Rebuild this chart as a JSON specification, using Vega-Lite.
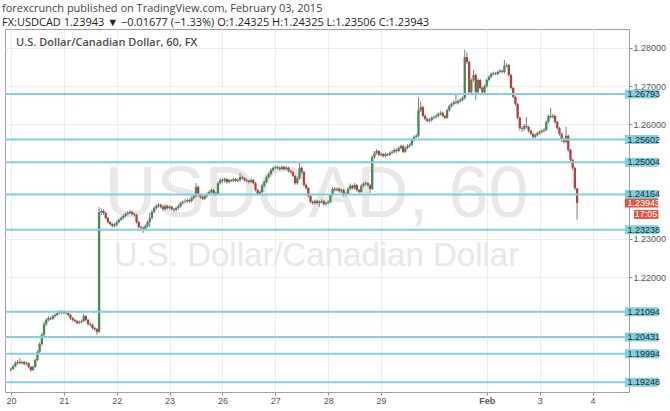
{
"$schema":"https://vega.github.io/schema/vega-lite/v6.json",
"width":624,"height":363,
"autosize":{"type":"none"},
"padding":{"left":5,"top":29,"right":41,"bottom":19},
"background":"white",
"config":{"view":{"stroke":"#a0a0a0","strokeWidth":1},"font":"Liberation Sans"},
"title":{"text":"forexcrunch published on TradingView.com, February 03, 2015","subtitle":"FX:USDCAD 1.23943 ▼ −0.01677 (−1.33%) O:1.24325 H:1.24325 L:1.23506 C:1.23943","anchor":"start","frame":"group","dx":-3,"offset":1,"font":"Open Sans","fontSize":11,"fontWeight":"normal","color":"#444444","subtitleFont":"Open Sans","subtitleFontSize":11,"subtitleColor":"#222222","subtitlePadding":3},
"datasets":{
"candles":[
{"t":0,"o":1.1957,"h":1.1964,"l":1.1953,"c":1.1960},
{"t":1,"o":1.1960,"h":1.1971,"l":1.1957,"c":1.1967},
{"t":2,"o":1.1967,"h":1.1980,"l":1.1964,"c":1.1975},
{"t":3,"o":1.1975,"h":1.1983,"l":1.1971,"c":1.1978},
{"t":4,"o":1.1978,"h":1.1988,"l":1.1972,"c":1.1975},
{"t":5,"o":1.1975,"h":1.1982,"l":1.1971,"c":1.1978},
{"t":6,"o":1.1978,"h":1.1981,"l":1.1969,"c":1.1973},
{"t":7,"o":1.1973,"h":1.1979,"l":1.1970,"c":1.1975},
{"t":8,"o":1.1975,"h":1.1977,"l":1.1961,"c":1.1965},
{"t":9,"o":1.1965,"h":1.1968,"l":1.1952,"c":1.1957},
{"t":10,"o":1.1957,"h":1.1969,"l":1.1954,"c":1.1965},
{"t":11,"o":1.1965,"h":1.1987,"l":1.1962,"c":1.1983},
{"t":12,"o":1.1983,"h":1.2009,"l":1.1980,"c":1.2004},
{"t":13,"o":1.2004,"h":1.2030,"l":1.2001,"c":1.2025},
{"t":14,"o":1.2025,"h":1.2055,"l":1.2021,"c":1.2049},
{"t":15,"o":1.2049,"h":1.2084,"l":1.2045,"c":1.2077},
{"t":16,"o":1.2077,"h":1.2093,"l":1.2072,"c":1.2088},
{"t":17,"o":1.2088,"h":1.2098,"l":1.2084,"c":1.2093},
{"t":18,"o":1.2093,"h":1.2097,"l":1.2087,"c":1.2091},
{"t":19,"o":1.2091,"h":1.2102,"l":1.2088,"c":1.2098},
{"t":20,"o":1.2098,"h":1.2105,"l":1.2094,"c":1.2101},
{"t":21,"o":1.2101,"h":1.2110,"l":1.2098,"c":1.2106},
{"t":22,"o":1.2106,"h":1.2114,"l":1.2103,"c":1.2109},
{"t":23,"o":1.2109,"h":1.2113,"l":1.2102,"c":1.2106},
{"t":24,"o":1.2106,"h":1.2113,"l":1.2103,"c":1.2109},
{"t":25,"o":1.2109,"h":1.2112,"l":1.2102,"c":1.2106},
{"t":26,"o":1.2106,"h":1.2109,"l":1.2097,"c":1.2101},
{"t":27,"o":1.2101,"h":1.2104,"l":1.2089,"c":1.2093},
{"t":28,"o":1.2093,"h":1.2096,"l":1.2084,"c":1.2088},
{"t":29,"o":1.2088,"h":1.2091,"l":1.2081,"c":1.2085},
{"t":30,"o":1.2085,"h":1.2088,"l":1.2076,"c":1.2080},
{"t":31,"o":1.2080,"h":1.2087,"l":1.2077,"c":1.2083},
{"t":32,"o":1.2083,"h":1.2089,"l":1.2079,"c":1.2085},
{"t":33,"o":1.2085,"h":1.2103,"l":1.2082,"c":1.2098},
{"t":34,"o":1.2098,"h":1.2101,"l":1.2084,"c":1.2088},
{"t":35,"o":1.2088,"h":1.2091,"l":1.2073,"c":1.2077},
{"t":36,"o":1.2077,"h":1.2081,"l":1.2071,"c":1.2075},
{"t":37,"o":1.2075,"h":1.2078,"l":1.2063,"c":1.2067},
{"t":38,"o":1.2067,"h":1.2070,"l":1.2060,"c":1.2064},
{"t":39,"o":1.2064,"h":1.2067,"l":1.2049,"c":1.2057},
{"t":40,"o":1.2057,"h":1.2383,"l":1.2054,"c":1.2370},
{"t":41,"o":1.2370,"h":1.2380,"l":1.2362,"c":1.2373},
{"t":42,"o":1.2373,"h":1.2378,"l":1.2363,"c":1.2368},
{"t":43,"o":1.2368,"h":1.2371,"l":1.2351,"c":1.2355},
{"t":44,"o":1.2355,"h":1.2358,"l":1.2340,"c":1.2344},
{"t":45,"o":1.2344,"h":1.2347,"l":1.2335,"c":1.2339},
{"t":46,"o":1.2339,"h":1.2342,"l":1.2330,"c":1.2334},
{"t":47,"o":1.2334,"h":1.2341,"l":1.2330,"c":1.2337},
{"t":48,"o":1.2337,"h":1.2348,"l":1.2333,"c":1.2344},
{"t":49,"o":1.2344,"h":1.2354,"l":1.2341,"c":1.2350},
{"t":50,"o":1.2350,"h":1.2359,"l":1.2347,"c":1.2355},
{"t":51,"o":1.2355,"h":1.2364,"l":1.2351,"c":1.2360},
{"t":52,"o":1.2360,"h":1.2369,"l":1.2357,"c":1.2365},
{"t":53,"o":1.2365,"h":1.2373,"l":1.2362,"c":1.2368},
{"t":54,"o":1.2368,"h":1.2376,"l":1.2364,"c":1.2371},
{"t":55,"o":1.2371,"h":1.2374,"l":1.2361,"c":1.2365},
{"t":56,"o":1.2365,"h":1.2369,"l":1.2359,"c":1.2363},
{"t":57,"o":1.2363,"h":1.2366,"l":1.2340,"c":1.2344},
{"t":58,"o":1.2344,"h":1.2347,"l":1.2327,"c":1.2331},
{"t":59,"o":1.2331,"h":1.2335,"l":1.2325,"c":1.2329},
{"t":60,"o":1.2329,"h":1.2333,"l":1.2316,"c":1.2326},
{"t":61,"o":1.2326,"h":1.2338,"l":1.2322,"c":1.2334},
{"t":62,"o":1.2334,"h":1.2348,"l":1.2330,"c":1.2344},
{"t":63,"o":1.2344,"h":1.2368,"l":1.2331,"c":1.2355},
{"t":64,"o":1.2355,"h":1.2376,"l":1.2351,"c":1.2371},
{"t":65,"o":1.2371,"h":1.2385,"l":1.2367,"c":1.2381},
{"t":66,"o":1.2381,"h":1.2391,"l":1.2377,"c":1.2386},
{"t":67,"o":1.2386,"h":1.2394,"l":1.2382,"c":1.2389},
{"t":68,"o":1.2389,"h":1.2392,"l":1.2380,"c":1.2384},
{"t":69,"o":1.2384,"h":1.2387,"l":1.2374,"c":1.2378},
{"t":70,"o":1.2378,"h":1.2390,"l":1.2374,"c":1.2386},
{"t":71,"o":1.2386,"h":1.2389,"l":1.2377,"c":1.2381},
{"t":72,"o":1.2381,"h":1.2388,"l":1.2377,"c":1.2384},
{"t":73,"o":1.2384,"h":1.2387,"l":1.2374,"c":1.2378},
{"t":74,"o":1.2378,"h":1.2381,"l":1.2370,"c":1.2376},
{"t":75,"o":1.2376,"h":1.2385,"l":1.2372,"c":1.2381},
{"t":76,"o":1.2381,"h":1.2390,"l":1.2377,"c":1.2386},
{"t":77,"o":1.2386,"h":1.2398,"l":1.2382,"c":1.2394},
{"t":78,"o":1.2394,"h":1.2401,"l":1.2390,"c":1.2397},
{"t":79,"o":1.2397,"h":1.2404,"l":1.2393,"c":1.2399},
{"t":80,"o":1.2399,"h":1.2406,"l":1.2395,"c":1.2402},
{"t":81,"o":1.2402,"h":1.2405,"l":1.2395,"c":1.2399},
{"t":82,"o":1.2399,"h":1.2411,"l":1.2395,"c":1.2407},
{"t":83,"o":1.2407,"h":1.2417,"l":1.2403,"c":1.2412},
{"t":84,"o":1.2412,"h":1.2446,"l":1.2408,"c":1.2436},
{"t":85,"o":1.2436,"h":1.2440,"l":1.2411,"c":1.2415},
{"t":86,"o":1.2415,"h":1.2419,"l":1.2405,"c":1.2410},
{"t":87,"o":1.2410,"h":1.2413,"l":1.2401,"c":1.2405},
{"t":88,"o":1.2405,"h":1.2416,"l":1.2402,"c":1.2412},
{"t":89,"o":1.2412,"h":1.2422,"l":1.2408,"c":1.2418},
{"t":90,"o":1.2418,"h":1.2427,"l":1.2414,"c":1.2423},
{"t":91,"o":1.2423,"h":1.2432,"l":1.2419,"c":1.2428},
{"t":92,"o":1.2428,"h":1.2431,"l":1.2416,"c":1.2420},
{"t":93,"o":1.2420,"h":1.2424,"l":1.2413,"c":1.2418},
{"t":94,"o":1.2418,"h":1.2451,"l":1.2415,"c":1.2446},
{"t":95,"o":1.2446,"h":1.2459,"l":1.2442,"c":1.2454},
{"t":96,"o":1.2454,"h":1.2458,"l":1.2447,"c":1.2452},
{"t":97,"o":1.2452,"h":1.2461,"l":1.2448,"c":1.2457},
{"t":98,"o":1.2457,"h":1.2460,"l":1.2445,"c":1.2449},
{"t":99,"o":1.2449,"h":1.2458,"l":1.2445,"c":1.2454},
{"t":100,"o":1.2454,"h":1.2457,"l":1.2448,"c":1.2452},
{"t":101,"o":1.2452,"h":1.2461,"l":1.2448,"c":1.2457},
{"t":102,"o":1.2457,"h":1.2460,"l":1.2448,"c":1.2452},
{"t":103,"o":1.2452,"h":1.2459,"l":1.2449,"c":1.2454},
{"t":104,"o":1.2454,"h":1.2473,"l":1.2450,"c":1.2462},
{"t":105,"o":1.2462,"h":1.2466,"l":1.2455,"c":1.2459},
{"t":106,"o":1.2459,"h":1.2462,"l":1.2450,"c":1.2454},
{"t":107,"o":1.2454,"h":1.2458,"l":1.2448,"c":1.2452},
{"t":108,"o":1.2452,"h":1.2455,"l":1.2445,"c":1.2449},
{"t":109,"o":1.2449,"h":1.2458,"l":1.2446,"c":1.2454},
{"t":110,"o":1.2454,"h":1.2457,"l":1.2442,"c":1.2446},
{"t":111,"o":1.2446,"h":1.2449,"l":1.2424,"c":1.2428},
{"t":112,"o":1.2428,"h":1.2431,"l":1.2413,"c":1.2418},
{"t":113,"o":1.2418,"h":1.2427,"l":1.2414,"c":1.2423},
{"t":114,"o":1.2423,"h":1.2443,"l":1.2420,"c":1.2439},
{"t":115,"o":1.2439,"h":1.2453,"l":1.2435,"c":1.2449},
{"t":116,"o":1.2449,"h":1.2466,"l":1.2446,"c":1.2462},
{"t":117,"o":1.2462,"h":1.2474,"l":1.2458,"c":1.2470},
{"t":118,"o":1.2470,"h":1.2485,"l":1.2466,"c":1.2480},
{"t":119,"o":1.2480,"h":1.2490,"l":1.2476,"c":1.2486},
{"t":120,"o":1.2486,"h":1.2493,"l":1.2482,"c":1.2488},
{"t":121,"o":1.2488,"h":1.2492,"l":1.2482,"c":1.2486},
{"t":122,"o":1.2486,"h":1.2490,"l":1.2479,"c":1.2483},
{"t":123,"o":1.2483,"h":1.2492,"l":1.2480,"c":1.2488},
{"t":124,"o":1.2488,"h":1.2491,"l":1.2479,"c":1.2483},
{"t":125,"o":1.2483,"h":1.2490,"l":1.2480,"c":1.2486},
{"t":126,"o":1.2486,"h":1.2489,"l":1.2474,"c":1.2478},
{"t":127,"o":1.2478,"h":1.2481,"l":1.2471,"c":1.2475},
{"t":128,"o":1.2475,"h":1.2478,"l":1.2461,"c":1.2465},
{"t":129,"o":1.2465,"h":1.2468,"l":1.2442,"c":1.2446},
{"t":130,"o":1.2446,"h":1.2463,"l":1.2442,"c":1.2459},
{"t":131,"o":1.2459,"h":1.2499,"l":1.2455,"c":1.2486},
{"t":132,"o":1.2486,"h":1.2490,"l":1.2470,"c":1.2475},
{"t":133,"o":1.2475,"h":1.2478,"l":1.2437,"c":1.2441},
{"t":134,"o":1.2441,"h":1.2445,"l":1.2428,"c":1.2433},
{"t":135,"o":1.2433,"h":1.2436,"l":1.2408,"c":1.2412},
{"t":136,"o":1.2412,"h":1.2415,"l":1.2393,"c":1.2397},
{"t":137,"o":1.2397,"h":1.2401,"l":1.2389,"c":1.2394},
{"t":138,"o":1.2394,"h":1.2403,"l":1.2390,"c":1.2399},
{"t":139,"o":1.2399,"h":1.2402,"l":1.2390,"c":1.2394},
{"t":140,"o":1.2394,"h":1.2401,"l":1.2384,"c":1.2397},
{"t":141,"o":1.2397,"h":1.2404,"l":1.2393,"c":1.2399},
{"t":142,"o":1.2399,"h":1.2402,"l":1.2387,"c":1.2391},
{"t":143,"o":1.2391,"h":1.2398,"l":1.2387,"c":1.2394},
{"t":144,"o":1.2394,"h":1.2401,"l":1.2390,"c":1.2397},
{"t":145,"o":1.2397,"h":1.2419,"l":1.2393,"c":1.2415},
{"t":146,"o":1.2415,"h":1.2436,"l":1.2411,"c":1.2431},
{"t":147,"o":1.2431,"h":1.2435,"l":1.2424,"c":1.2428},
{"t":148,"o":1.2428,"h":1.2435,"l":1.2424,"c":1.2431},
{"t":149,"o":1.2431,"h":1.2434,"l":1.2421,"c":1.2425},
{"t":150,"o":1.2425,"h":1.2432,"l":1.2421,"c":1.2428},
{"t":151,"o":1.2428,"h":1.2431,"l":1.2411,"c":1.2415},
{"t":152,"o":1.2415,"h":1.2422,"l":1.2411,"c":1.2418},
{"t":153,"o":1.2418,"h":1.2435,"l":1.2415,"c":1.2431},
{"t":154,"o":1.2431,"h":1.2445,"l":1.2427,"c":1.2439},
{"t":155,"o":1.2439,"h":1.2442,"l":1.2429,"c":1.2433},
{"t":156,"o":1.2433,"h":1.2446,"l":1.2429,"c":1.2441},
{"t":157,"o":1.2441,"h":1.2444,"l":1.2424,"c":1.2428},
{"t":158,"o":1.2428,"h":1.2431,"l":1.2419,"c":1.2423},
{"t":159,"o":1.2423,"h":1.2443,"l":1.2420,"c":1.2439},
{"t":160,"o":1.2439,"h":1.2449,"l":1.2435,"c":1.2444},
{"t":161,"o":1.2444,"h":1.2451,"l":1.2440,"c":1.2446},
{"t":162,"o":1.2446,"h":1.2449,"l":1.2437,"c":1.2441},
{"t":163,"o":1.2441,"h":1.2444,"l":1.2420,"c":1.2431},
{"t":164,"o":1.2431,"h":1.2519,"l":1.2428,"c":1.2514},
{"t":165,"o":1.2514,"h":1.2530,"l":1.2510,"c":1.2525},
{"t":166,"o":1.2525,"h":1.2535,"l":1.2521,"c":1.2530},
{"t":167,"o":1.2530,"h":1.2533,"l":1.2516,"c":1.2520},
{"t":168,"o":1.2520,"h":1.2527,"l":1.2516,"c":1.2522},
{"t":169,"o":1.2522,"h":1.2525,"l":1.2513,"c":1.2517},
{"t":170,"o":1.2517,"h":1.2526,"l":1.2514,"c":1.2522},
{"t":171,"o":1.2522,"h":1.2525,"l":1.2516,"c":1.2520},
{"t":172,"o":1.2520,"h":1.2529,"l":1.2517,"c":1.2525},
{"t":173,"o":1.2525,"h":1.2532,"l":1.2521,"c":1.2528},
{"t":174,"o":1.2528,"h":1.2537,"l":1.2524,"c":1.2533},
{"t":175,"o":1.2533,"h":1.2536,"l":1.2526,"c":1.2530},
{"t":176,"o":1.2530,"h":1.2542,"l":1.2527,"c":1.2538},
{"t":177,"o":1.2538,"h":1.2547,"l":1.2534,"c":1.2543},
{"t":178,"o":1.2543,"h":1.2546,"l":1.2524,"c":1.2528},
{"t":179,"o":1.2528,"h":1.2542,"l":1.2525,"c":1.2538},
{"t":180,"o":1.2538,"h":1.2548,"l":1.2535,"c":1.2543},
{"t":181,"o":1.2543,"h":1.2550,"l":1.2539,"c":1.2546},
{"t":182,"o":1.2546,"h":1.2563,"l":1.2543,"c":1.2559},
{"t":183,"o":1.2559,"h":1.2571,"l":1.2555,"c":1.2567},
{"t":184,"o":1.2567,"h":1.2575,"l":1.2563,"c":1.2570},
{"t":185,"o":1.2570,"h":1.2671,"l":1.2566,"c":1.2637},
{"t":186,"o":1.2637,"h":1.2660,"l":1.2632,"c":1.2645},
{"t":187,"o":1.2645,"h":1.2649,"l":1.2618,"c":1.2622},
{"t":188,"o":1.2622,"h":1.2626,"l":1.2610,"c":1.2614},
{"t":189,"o":1.2614,"h":1.2617,"l":1.2605,"c":1.2609},
{"t":190,"o":1.2609,"h":1.2616,"l":1.2605,"c":1.2611},
{"t":191,"o":1.2611,"h":1.2621,"l":1.2607,"c":1.2617},
{"t":192,"o":1.2617,"h":1.2623,"l":1.2613,"c":1.2619},
{"t":193,"o":1.2619,"h":1.2626,"l":1.2615,"c":1.2622},
{"t":194,"o":1.2622,"h":1.2631,"l":1.2618,"c":1.2627},
{"t":195,"o":1.2627,"h":1.2634,"l":1.2623,"c":1.2630},
{"t":196,"o":1.2630,"h":1.2633,"l":1.2618,"c":1.2622},
{"t":197,"o":1.2622,"h":1.2625,"l":1.2613,"c":1.2617},
{"t":198,"o":1.2617,"h":1.2641,"l":1.2614,"c":1.2637},
{"t":199,"o":1.2637,"h":1.2652,"l":1.2633,"c":1.2648},
{"t":200,"o":1.2648,"h":1.2657,"l":1.2644,"c":1.2653},
{"t":201,"o":1.2653,"h":1.2663,"l":1.2649,"c":1.2658},
{"t":202,"o":1.2658,"h":1.2677,"l":1.2652,"c":1.2656},
{"t":203,"o":1.2656,"h":1.2665,"l":1.2652,"c":1.2661},
{"t":204,"o":1.2661,"h":1.2668,"l":1.2657,"c":1.2664},
{"t":205,"o":1.2664,"h":1.2673,"l":1.2660,"c":1.2669},
{"t":206,"o":1.2669,"h":1.2795,"l":1.2665,"c":1.2776},
{"t":207,"o":1.2776,"h":1.2788,"l":1.2758,"c":1.2763},
{"t":208,"o":1.2763,"h":1.2767,"l":1.2679,"c":1.2684},
{"t":209,"o":1.2684,"h":1.2720,"l":1.2680,"c":1.2716},
{"t":210,"o":1.2716,"h":1.2742,"l":1.2712,"c":1.2729},
{"t":211,"o":1.2729,"h":1.2733,"l":1.2664,"c":1.2684},
{"t":212,"o":1.2684,"h":1.2720,"l":1.2680,"c":1.2716},
{"t":213,"o":1.2716,"h":1.2719,"l":1.2691,"c":1.2695},
{"t":214,"o":1.2695,"h":1.2698,"l":1.2680,"c":1.2684},
{"t":215,"o":1.2684,"h":1.2704,"l":1.2680,"c":1.2700},
{"t":216,"o":1.2700,"h":1.2720,"l":1.2696,"c":1.2716},
{"t":217,"o":1.2716,"h":1.2728,"l":1.2712,"c":1.2724},
{"t":218,"o":1.2724,"h":1.2736,"l":1.2720,"c":1.2732},
{"t":219,"o":1.2732,"h":1.2738,"l":1.2728,"c":1.2734},
{"t":220,"o":1.2734,"h":1.2737,"l":1.2728,"c":1.2732},
{"t":221,"o":1.2732,"h":1.2741,"l":1.2728,"c":1.2737},
{"t":222,"o":1.2737,"h":1.2744,"l":1.2733,"c":1.2740},
{"t":223,"o":1.2740,"h":1.2743,"l":1.2733,"c":1.2737},
{"t":224,"o":1.2737,"h":1.2768,"l":1.2733,"c":1.2753},
{"t":225,"o":1.2753,"h":1.2760,"l":1.2748,"c":1.2755},
{"t":226,"o":1.2755,"h":1.2758,"l":1.2725,"c":1.2729},
{"t":227,"o":1.2729,"h":1.2732,"l":1.2691,"c":1.2695},
{"t":228,"o":1.2695,"h":1.2698,"l":1.2668,"c":1.2672},
{"t":229,"o":1.2672,"h":1.2675,"l":1.2649,"c":1.2653},
{"t":230,"o":1.2653,"h":1.2656,"l":1.2613,"c":1.2617},
{"t":231,"o":1.2617,"h":1.2620,"l":1.2584,"c":1.2590},
{"t":232,"o":1.2590,"h":1.2594,"l":1.2580,"c":1.2588},
{"t":233,"o":1.2588,"h":1.2600,"l":1.2583,"c":1.2596},
{"t":234,"o":1.2596,"h":1.2619,"l":1.2589,"c":1.2593},
{"t":235,"o":1.2593,"h":1.2596,"l":1.2579,"c":1.2583},
{"t":236,"o":1.2583,"h":1.2586,"l":1.2571,"c":1.2575},
{"t":237,"o":1.2575,"h":1.2578,"l":1.2563,"c":1.2567},
{"t":238,"o":1.2567,"h":1.2576,"l":1.2563,"c":1.2572},
{"t":239,"o":1.2572,"h":1.2581,"l":1.2568,"c":1.2577},
{"t":240,"o":1.2577,"h":1.2584,"l":1.2573,"c":1.2580},
{"t":241,"o":1.2580,"h":1.2587,"l":1.2576,"c":1.2583},
{"t":242,"o":1.2583,"h":1.2590,"l":1.2579,"c":1.2585},
{"t":243,"o":1.2585,"h":1.2610,"l":1.2582,"c":1.2606},
{"t":244,"o":1.2606,"h":1.2626,"l":1.2602,"c":1.2622},
{"t":245,"o":1.2622,"h":1.2643,"l":1.2615,"c":1.2619},
{"t":246,"o":1.2619,"h":1.2627,"l":1.2615,"c":1.2622},
{"t":247,"o":1.2622,"h":1.2625,"l":1.2602,"c":1.2606},
{"t":248,"o":1.2606,"h":1.2609,"l":1.2586,"c":1.2590},
{"t":249,"o":1.2590,"h":1.2593,"l":1.2570,"c":1.2575},
{"t":250,"o":1.2575,"h":1.2578,"l":1.2554,"c":1.2559},
{"t":251,"o":1.2559,"h":1.2563,"l":1.2549,"c":1.2554},
{"t":252,"o":1.2554,"h":1.2593,"l":1.2550,"c":1.2570},
{"t":253,"o":1.2570,"h":1.2573,"l":1.2528,"c":1.2533},
{"t":254,"o":1.2533,"h":1.2536,"l":1.2502,"c":1.2507},
{"t":255,"o":1.2507,"h":1.2510,"l":1.2480,"c":1.2486},
{"t":256,"o":1.2486,"h":1.2489,"l":1.2428,"c":1.24325},
{"t":257,"o":1.24325,"h":1.24325,"l":1.23506,"c":1.23943}
],
"levels":[{"level":1.26793},{"level":1.25602},{"level":1.25004},{"level":1.24164},{"level":1.23238},{"level":1.21094},{"level":1.20431},{"level":1.19994},{"level":1.19248}],
"last":[{"level":1.23943,"time":"17:05"}]
},
"layer":[
{"data":{"values":[{"label":"USDCAD, 60"}]},
 "mark":{"type":"text","font":"Liberation Sans","fontSize":72,"color":"#e8e8e8","align":"center","baseline":"middle"},
 "encoding":{"x":{"datum":138.7,"type":"quantitative","scale":{"domain":[-0.45,278.3],"nice":false,"zero":false},
   "axis":{"values":[0,24,48,72,96,120,144,168,216,240,264],"labelExpr":"['20','21','22','23','26','27','28','29','30','Feb','3','4'][datum.value/24]","title":null,"grid":true,"gridColor":"#ececec","domain":false,"ticks":true,"tickSize":3,"tickColor":"#888888","labelFontSize":9,"labelColor":"#555555","labelFont":"Liberation Sans","labelPadding":1,"zindex":0,"labelFontWeight":{"condition":{"test":"datum.value==216","value":"bold"},"value":"normal"}}},
  "y":{"datum":1.2415,"type":"quantitative","scale":{"domain":[1.18994,1.28494],"nice":false,"zero":false},
   "axis":{"orient":"right","values":[1.22,1.23,1.26,1.27,1.28],"format":".5f","title":null,"grid":true,"gridColor":"#ececec","domain":false,"ticks":true,"tickSize":3,"tickColor":"#888888","labelFontSize":9,"labelColor":"#555555","labelFont":"Liberation Sans","labelPadding":1,"zindex":0}},
  "text":{"field":"label"}}},
{"data":{"values":[{"label":"U.S. Dollar/Canadian Dollar"}]},
 "mark":{"type":"text","font":"Liberation Sans","fontSize":33,"color":"#e8e8e8","align":"center","baseline":"middle"},
 "encoding":{"x":{"datum":138.7,"type":"quantitative"},
  "y":{"datum":1.2255,"type":"quantitative"},
  "text":{"field":"label"}}},
{"data":{"values":[{"label":"U.S. Dollar/Canadian Dollar, 60, FX"}]},
 "mark":{"type":"text","font":"Open Sans","fontSize":11,"fontWeight":600,"color":"#4d4d4d","align":"left","baseline":"middle"},
 "encoding":{"x":{"datum":2.3,"type":"quantitative"},
  "y":{"datum":1.2813,"type":"quantitative"},
  "text":{"field":"label"}}},
{"data":{"name":"candles"},
 "mark":{"type":"rule","color":"#7a7a7a","strokeWidth":1},
 "encoding":{"x":{"field":"t","type":"quantitative"},
  "y":{"field":"l","type":"quantitative"},
  "y2":{"field":"h"}}},
{"data":{"name":"candles"},
 "mark":{"type":"bar","size":2.3},
 "encoding":{"x":{"field":"t","type":"quantitative"},
  "y":{"field":"o","type":"quantitative"},
  "y2":{"field":"c"},
  "color":{"condition":{"test":"datum.c >= datum.o","value":"#45885a"},"value":"#b0413a"}}},
{"data":{"name":"levels"},
 "mark":{"type":"rule","color":"#84cfdd","strokeWidth":2},
 "encoding":{"y":{"field":"level","type":"quantitative"}}},
{"data":{"name":"levels"},
 "mark":{"type":"rect","color":"#84cfdd","yOffset":-4.5,"y2Offset":4.5},
 "encoding":{"x":{"datum":278.7,"type":"quantitative"},"x2":{"datum":293.9},
  "y":{"field":"level","type":"quantitative"},"y2":{"field":"level"}}},
{"data":{"name":"levels"},
 "mark":{"type":"text","font":"Liberation Sans","fontSize":9,"color":"#1e2a30","align":"left","baseline":"middle"},
 "encoding":{"x":{"datum":279.9,"type":"quantitative"},
  "y":{"field":"level","type":"quantitative"},
  "text":{"field":"level","type":"quantitative","format":".5f"}}},
{"data":{"name":"last"},
 "mark":{"type":"rect","color":"#df5542","yOffset":-4.2,"y2Offset":4.5},
 "encoding":{"x":{"datum":278.7,"type":"quantitative"},"x2":{"datum":293.9},
  "y":{"field":"level","type":"quantitative"},"y2":{"field":"level"}}},
{"data":{"name":"last"},
 "mark":{"type":"text","font":"Liberation Sans","fontSize":9,"color":"white","align":"left","baseline":"middle"},
 "encoding":{"x":{"datum":279.9,"type":"quantitative"},
  "y":{"field":"level","type":"quantitative"},
  "text":{"field":"level","type":"quantitative","format":".5f"}}},
{"data":{"name":"last"},
 "mark":{"type":"rect","color":"#df5542","yOffset":7,"y2Offset":16},
 "encoding":{"x":{"datum":282.8,"type":"quantitative"},"x2":{"datum":293.9},
  "y":{"field":"level","type":"quantitative"},"y2":{"field":"level"}}},
{"data":{"name":"last"},
 "mark":{"type":"text","font":"Liberation Sans","fontSize":9,"color":"white","align":"center","baseline":"middle","dy":11.5},
 "encoding":{"x":{"datum":288.3,"type":"quantitative"},
  "y":{"field":"level","type":"quantitative"},
  "text":{"field":"time"}}}
]
}
